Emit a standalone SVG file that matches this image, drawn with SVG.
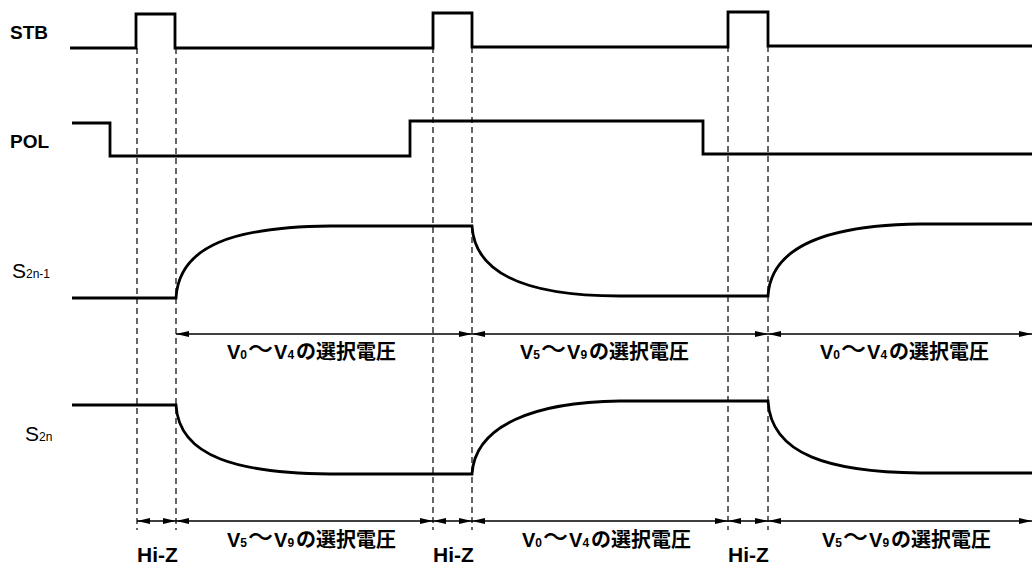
<svg xmlns="http://www.w3.org/2000/svg" width="1032" height="568" viewBox="0 0 1032 568">
<style>
.sig{fill:none;stroke:#000;stroke-width:2.8;stroke-linejoin:miter}
.dash{fill:none;stroke:#000;stroke-width:1.2;stroke-dasharray:6,4}
.arr{fill:none;stroke:#000;stroke-width:1.4;marker-start:url(#ah);marker-end:url(#ah)}
.lbl{font-family:"Liberation Sans","Noto Sans CJK JP",sans-serif;font-size:19px;font-weight:bold;fill:#000}
.sl{font-family:"Liberation Sans",sans-serif;font-size:21px;fill:#000}
.hz{font-family:"Liberation Sans",sans-serif;font-size:21px;font-weight:bold;fill:#000}
.jp{font-family:"Noto Sans CJK JP",sans-serif;font-size:20px;font-weight:bold;fill:#000}
.lat{font-family:"Liberation Sans",sans-serif;font-size:20px}
.sub{font-size:12px}
.til{font-size:25px;font-weight:500}
</style>
<defs>
<marker id="ah" markerWidth="14" markerHeight="8" refX="13" refY="4" orient="auto-start-reverse" markerUnits="userSpaceOnUse">
<path d="M0,1 L13,4 L0,7 Z" fill="#000"/>
</marker>
</defs>
<g id="labels">
<text class="lbl" x="10" y="39">STB</text>
<text class="lbl" x="10" y="148">POL</text>
<text class="sl" x="12" y="278">S<tspan class="sub">2n-1</tspan></text>
<text class="sl" x="25" y="441">S<tspan class="sub">2n</tspan></text>
</g>
<g id="guides">
<line class="dash" x1="137" y1="48" x2="137" y2="530"/>
<line class="dash" x1="176" y1="48" x2="176" y2="530"/>
<line class="dash" x1="433" y1="47" x2="433" y2="530"/>
<line class="dash" x1="472" y1="47" x2="472" y2="530"/>
<line class="dash" x1="728" y1="46" x2="728" y2="530"/>
<line class="dash" x1="768" y1="46" x2="768" y2="530"/>
</g>
<g id="STB">
<path class="sig" d="M70,48 H136 V14 H175 V48 H433 V13 H472 V47 H728 V12 H768 V46 H1032"/>
</g>
<g id="POL">
<path class="sig" d="M72,123 H110 V156 H410 V121 H703 V154 H1032"/>
</g>
<g id="S2n-1">
<path class="sig" d="M72,298 H176 C179,245 235,227 330,226 H472 C475,278 535,296 620,296 H768 C771,245 830,225 920,224 H1032"/>
</g>
<g id="S2n">
<path class="sig" d="M72,405 H176 C179,458 240,473 330,474 H472 C475,425 535,402 620,401 H768 C771,455 830,472 920,473 H1032"/>
</g>
<g id="connectors">
<line class="arr" x1="176" y1="334" x2="472" y2="334"/>
<line class="arr" x1="472" y1="334" x2="768" y2="334"/>
<line class="arr" x1="768" y1="334" x2="1032" y2="334"/>
<line class="arr" x1="137" y1="521" x2="176" y2="521"/>
<line class="arr" x1="176" y1="521" x2="433" y2="521"/>
<line class="arr" x1="433" y1="521" x2="472" y2="521"/>
<line class="arr" x1="472" y1="521" x2="728" y2="521"/>
<line class="arr" x1="728" y1="521" x2="768" y2="521"/>
<line class="arr" x1="768" y1="521" x2="1032" y2="521"/>
</g>
<g id="span-labels">
<text class="jp" x="227" y="359"><tspan class="lat">V</tspan><tspan class="lat sub">0</tspan><tspan class="til" dx="1" dy="-1">～</tspan><tspan class="lat" dx="1" dy="1">V</tspan><tspan class="lat sub">4</tspan><tspan dx="2">の選択電圧</tspan></text>
<text class="jp" x="520" y="359"><tspan class="lat">V</tspan><tspan class="lat sub">5</tspan><tspan class="til" dx="1" dy="-1">～</tspan><tspan class="lat" dx="1" dy="1">V</tspan><tspan class="lat sub">9</tspan><tspan dx="2">の選択電圧</tspan></text>
<text class="jp" x="820" y="359"><tspan class="lat">V</tspan><tspan class="lat sub">0</tspan><tspan class="til" dx="1" dy="-1">～</tspan><tspan class="lat" dx="1" dy="1">V</tspan><tspan class="lat sub">4</tspan><tspan dx="2">の選択電圧</tspan></text>
<text class="jp" x="227" y="547"><tspan class="lat">V</tspan><tspan class="lat sub">5</tspan><tspan class="til" dx="1" dy="-1">～</tspan><tspan class="lat" dx="1" dy="1">V</tspan><tspan class="lat sub">9</tspan><tspan dx="2">の選択電圧</tspan></text>
<text class="jp" x="522" y="547"><tspan class="lat">V</tspan><tspan class="lat sub">0</tspan><tspan class="til" dx="1" dy="-1">～</tspan><tspan class="lat" dx="1" dy="1">V</tspan><tspan class="lat sub">4</tspan><tspan dx="2">の選択電圧</tspan></text>
<text class="jp" x="822" y="547"><tspan class="lat">V</tspan><tspan class="lat sub">5</tspan><tspan class="til" dx="1" dy="-1">～</tspan><tspan class="lat" dx="1" dy="1">V</tspan><tspan class="lat sub">9</tspan><tspan dx="2">の選択電圧</tspan></text>
<text class="hz" x="137" y="562">Hi-Z</text>
<text class="hz" x="433" y="562">Hi-Z</text>
<text class="hz" x="728" y="562">Hi-Z</text>
</g>
</svg>
